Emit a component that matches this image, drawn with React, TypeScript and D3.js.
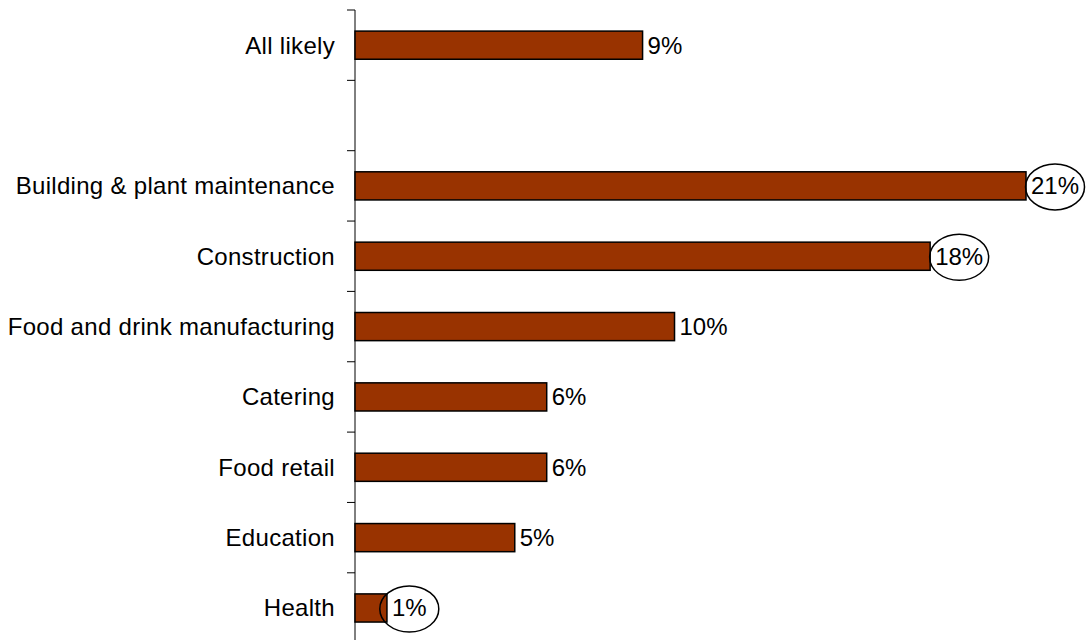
import React from "react";
import * as d3 from "d3";

const categories = [
  "All likely",
  "",
  "Building & plant maintenance",
  "Construction",
  "Food and drink manufacturing",
  "Catering",
  "Food retail",
  "Education",
  "Health",
];
const values: (number | null)[] = [9, null, 21, 18, 10, 6, 6, 5, 1];
const highlighted = ["Building & plant maintenance", "Construction", "Health"];

const W = 1087;
const H = 640;
const axisX = 355;
const top = 10;
const bandStep = 70.35;
const FS = 24;

export default function App() {
  const y = d3
    .scaleBand<string>()
    .domain(categories.map((c, i) => String(i)))
    .range([top, top + bandStep * categories.length])
    .paddingInner(0.6)
    .paddingOuter(0.3);
  const x = d3.scaleLinear().domain([0, 21]).range([axisX, 1026]);
  const font = "Arial, 'Liberation Sans', sans-serif";
  const tickYs = d3.range(categories.length + 1).map((i) => top + bandStep * i);

  return (
    <svg
      width={W}
      height={H}
      style={{ position: "absolute", left: 0, top: 0, background: "#fff" }}
      fontFamily={font}
    >
      <line x1={axisX} x2={axisX} y1={top} y2={H} stroke="#000" strokeWidth={1} />
      {tickYs.map((t, i) => (
        <line key={"t" + i} x1={axisX - 8} x2={axisX} y1={t} y2={t} stroke="#000" strokeWidth={1} />
      ))}
      {categories.map((c, i) => {
        const yc = (y(String(i)) as number) + y.bandwidth() / 2;
        const v = values[i];
        const label = v + "%";
        const textW = FS * (0.556 * (label.length - 1) + 0.889);
        return (
          <g key={i}>
            {c && (
              <text
                x={axisX - 20}
                y={yc}
                textAnchor="end"
                dominantBaseline="central"
                fontSize={FS}
                letterSpacing={0.3}
                fill="#000"
              >
                {c}
              </text>
            )}
            {v != null && (
              <rect
                x={axisX}
                y={y(String(i))}
                width={x(v) - axisX}
                height={y.bandwidth()}
                fill="#993300"
                stroke="#000"
                strokeWidth={1.5}
              />
            )}
            {v != null && highlighted.includes(c) && (
              <ellipse
                cx={x(v) + 5 + textW / 2}
                cy={yc + 1}
                rx={29.5}
                ry={23}
                fill="none"
                stroke="#000"
                strokeWidth={1.5}
              />
            )}
            {v != null && (
              <text x={x(v) + 5} y={yc} dominantBaseline="central" fontSize={FS} fill="#000">
                {label}
              </text>
            )}
          </g>
        );
      })}
    </svg>
  );
}
